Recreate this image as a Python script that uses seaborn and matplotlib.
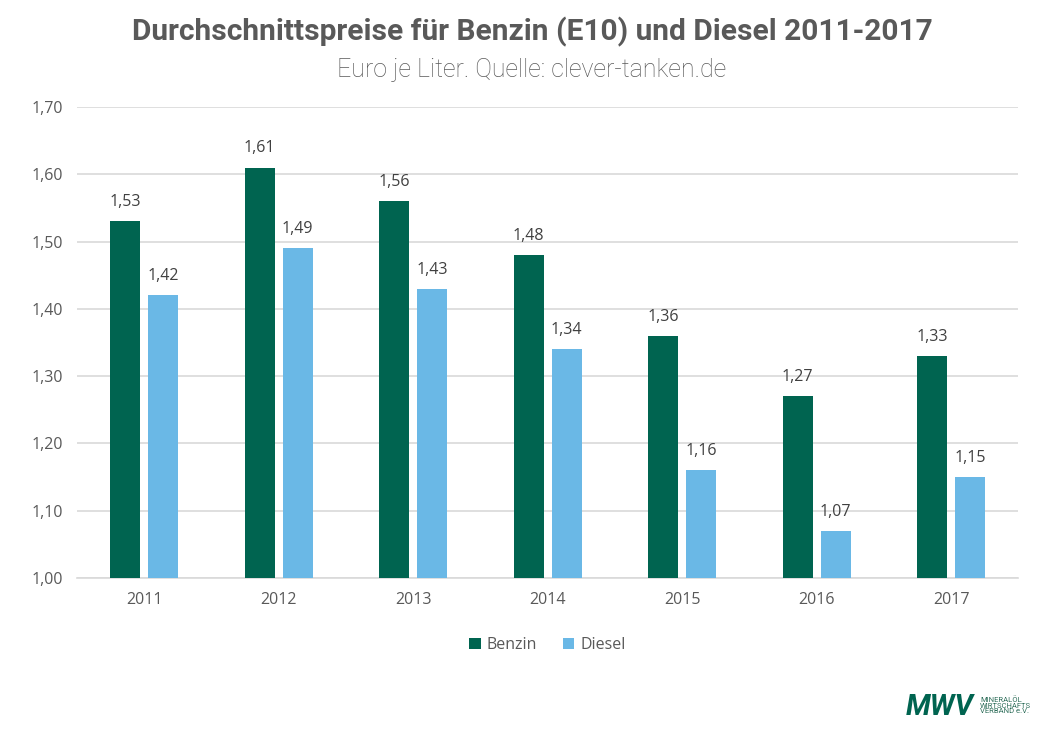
import pandas as pd
import matplotlib
matplotlib.use("Agg")
import matplotlib.pyplot as plt
import seaborn as sns

# chart data
years = ["2011", "2012", "2013", "2014", "2015", "2016", "2017"]
benzin = [1.53, 1.61, 1.56, 1.48, 1.36, 1.27, 1.33]
diesel = [1.42, 1.49, 1.43, 1.34, 1.16, 1.07, 1.15]
series = ["Benzin", "Diesel"]
y_ticks = [1.00, 1.10, 1.20, 1.30, 1.40, 1.50, 1.60, 1.70]

df = pd.DataFrame({
    "Jahr": years * 2,
    "Preis": benzin + diesel,
    "Sorte": [series[0]] * len(years) + [series[1]] * len(years),
})

sns.set_theme(style="white")
plt.rcParams["font.family"] = ["Open Sans", "DejaVu Sans"]

grey = "#595959"
fig = plt.figure(figsize=(10.64, 7.43), dpi=100)
ax = fig.add_axes([0.0724, 0.222, 0.8846, 0.634])

sns.barplot(data=df, x="Jahr", y="Preis", hue="Sorte",
            palette=["#006450", "#6ab8e6"], saturation=1, width=0.565, gap=0.21,
            linewidth=0, ax=ax, legend=True, zorder=3)

ax.set_ylim(1.0, 1.7)
ax.set_yticks(y_ticks)
ax.set_yticklabels([f"{v:.2f}".replace(".", ",") for v in y_ticks])
ax.yaxis.grid(True, color="#d9d9d9", linewidth=1.2, zorder=0)
ax.set_axisbelow(True)
for s in ["top", "right", "left"]:
    ax.spines[s].set_visible(False)
ax.spines["bottom"].set_color("#d9d9d9")
ax.spines["bottom"].set_linewidth(1.2)
ax.tick_params(axis="both", length=0, labelsize=11.5, colors=grey, pad=10)
ax.set_xlabel("")
ax.set_ylabel("")

# value labels
for cont in ax.containers:
    ax.bar_label(cont, labels=[f"{v:.2f}".replace(".", ",") for v in cont.datavalues],
                 padding=8, fontsize=11.5, color="#404040")

leg = ax.legend(loc="upper center", bbox_to_anchor=(0.5, -0.095), ncol=2,
                frameon=False, fontsize=11.5, handlelength=0.7, handleheight=0.7,
                columnspacing=1.6, handletextpad=0.4)
for t in leg.get_texts():
    t.set_color(grey)

fig.text(0.5, 0.957, "Durchschnittspreise für Benzin (E10) und Diesel 2011-2017",
         ha="center", va="center", fontsize=21.5, fontweight="bold", color="#595959",
         family=["Roboto", "DejaVu Sans"])
fig.text(0.5, 0.906, "Euro je Liter. Quelle: clever-tanken.de",
         ha="center", va="center", fontsize=18, fontweight="light", color="#595959",
         family=["Roboto", "DejaVu Sans"])

# logo
fig.text(0.851, 0.049, "MWV", ha="left", va="center", fontsize=21,
         fontweight="bold", style="italic", color="#006450",
         family=["Roboto", "DejaVu Sans"])
fig.text(0.921, 0.051, "MINERALÖL\nWIRTSCHAFTS\nVERBAND e.V.", ha="left", va="center",
         fontsize=5.5, color="#2e6e5a", linespacing=0.95, family=["Roboto", "DejaVu Sans"])

fig.savefig("out.png", dpi=100)
